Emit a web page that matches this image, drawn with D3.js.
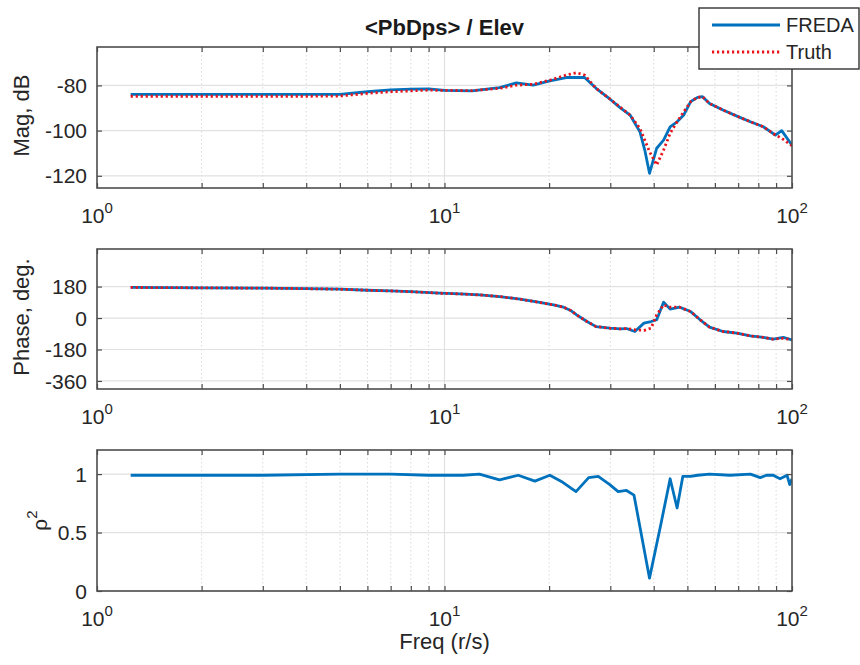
<!DOCTYPE html>
<html>
<head>
<meta charset="utf-8">
<script src="https://cdn.jsdelivr.net/npm/d3@7"></script>
<style>
  body { margin: 0; background: #fff; }
  svg { font-family: "Liberation Sans", Arial, sans-serif; }
</style>
</head>
<body>
<script>
// ---- data ----
var magFreq  = [1.25, 2, 3, 4, 5, 6, 7, 8, 9, 10, 12, 14.4, 16.1, 18, 20.1, 22.4, 24, 25.3, 27.3, 29.9,
                32, 34.2, 36.5, 37.7, 38.9, 40.8, 42.7, 44.6, 46.7, 48.8, 51.1, 53.5, 55.3, 57.9, 63.3,
                69.4, 75.9, 82.7, 89.6, 93.4, 100];
var magFreda = [-84, -84, -84, -84, -84, -82.8, -82.0, -81.6, -81.5, -82.2, -82.4, -81.0, -78.9, -79.9, -78.0,
                -76.5, -76.5, -76.5, -81.3, -86, -89.8, -93.1, -100.5, -108.6, -118.9, -107.8, -104.2, -98.3,
                -96.1, -93.1, -87.2, -85.3, -85, -88, -90.9, -93.6, -96.1, -98.3, -102, -100, -106.4];
var magTruth = [-84.8, -84.8, -84.8, -84.8, -84.7, -83.5, -82.8, -82.4, -82.1, -82.2, -82.3, -81.3, -79.9, -79.5,
                -77.7, -75.4, -74.4, -75.4, -81.3, -86, -89.6, -93.1, -99, -104.2, -109.3, -115.2, -108.6,
                -101.2, -96.1, -91.7, -87.2, -85.3, -85, -88, -90.9, -93.6, -96.1, -98.3, -102, -103.4, -106.7];

var phaseFreq  = [1.25, 2, 3, 4, 5, 6, 7, 8, 9.7, 11.1, 12.65, 14.4, 16.5, 18.8, 20.6, 22, 23, 24, 25.7, 27.3,
                  29.9, 32, 33.4, 35.3, 37.5, 39.3, 40.8, 42.7, 44.6, 47.5, 51.1, 54.4, 57.9, 63.3, 69.4,
                  75.9, 82.7, 88.3, 94.4, 100];
var phaseFreda = [175, 173, 171, 168, 165, 159, 155, 151, 142, 138, 132, 123, 108, 89, 75, 62, 45, 18, -20, -49,
                  -58, -62, -60, -77, -29, -20, -10, 91, 51, 62, 37, -10, -52, -77, -86, -102, -111, -121, -111, -125];
var phaseTruth = [175, 173, 171, 168, 165, 159, 155, 151, 142, 138, 132, 123, 108, 89, 75, 62, 45, 18, -20, -49,
                  -58, -62, -60, -67, -71, -58, 18, 75, 62, 62, 37, -10, -52, -77, -86, -102, -111, -121, -116, -125];

var cohFreq  = [1.25, 3, 5, 7, 9, 11.3, 12.6, 14.4, 16.3, 18.2, 20.1, 21.9, 23.9, 26, 27.7, 29.9, 31.6, 33.4,
                35.1, 38.9, 42, 44.6, 46.7, 48.5, 51.1, 53.5, 57.9, 66.3, 75.9, 81, 84.4, 88.3, 92.4, 96.8, 98.5, 100];
var cohFreda = [0.99, 0.99, 1.0, 1.0, 0.99, 0.99, 1.0, 0.95, 0.99, 0.94, 0.99, 0.93, 0.85, 0.97, 0.98, 0.91,
                0.85, 0.86, 0.82, 0.11, 0.58, 0.96, 0.71, 0.98, 0.98, 0.99, 1.0, 0.99, 1.0, 0.97, 0.99, 0.99,
                0.96, 0.99, 0.91, 0.96];

var magTicks   = [-120, -100, -80];
var phaseTicks = [-360, -180, 0, 180];
var cohTicks   = [0, 0.5, 1];
var decades    = [1, 10, 100];
var minorFreqs = [2, 3, 4, 5, 6, 7, 8, 9, 20, 30, 40, 50, 60, 70, 80, 90];

var blue = '#0072bd', red = '#e8141c';

// ---- layout ----
var width = 860, height = 665;

var x = d3.scaleLog()
    .domain([1, 100])
    .range([97, 792]);

// one entry per subplot
var panels = [
  { top: 47, bottom: 188, domain: [-125.4, -63], ticks: magTicks, fmt: String, label: 'Mag, dB',
    lines: [ { f: magFreq, v: magFreda, color: blue, dash: null },
             { f: magFreq, v: magTruth, color: red, dash: '2.2,2.8' } ] },
  { top: 249, bottom: 389, domain: [-406, 395], ticks: phaseTicks, fmt: String, label: 'Phase, deg.',
    lines: [ { f: phaseFreq, v: phaseFreda, color: blue, dash: null },
             { f: phaseFreq, v: phaseTruth, color: red, dash: '2.2,2.8' } ] },
  { top: 450, bottom: 591, domain: [0, 1.206], ticks: cohTicks, fmt: function(d) { return d === 0.5 ? '0.5' : String(d); }, label: null,
    lines: [ { f: cohFreq, v: cohFreda, color: blue, dash: null } ] }
];

var svg = d3.select('body')
  .append('svg')
    .attr('width', width)
    .attr('height', height);

var frameColor = '#4d4d4d';

panels.forEach(function(p, i) {
  var y = d3.scaleLinear()
      .domain(p.domain)
      .range([p.bottom, p.top]);
  var h = p.bottom - p.top;
  var g = svg.append('g');

  // grid: dotted minor verticals, solid major verticals and horizontals
  g.append('g')
    .selectAll('line')
    .data(minorFreqs)
    .enter().append('line')
      .attr('x1', function(d) { return x(d); })
      .attr('x2', function(d) { return x(d); })
      .attr('y1', p.top).attr('y2', p.bottom)
      .attr('stroke', '#d9d9d9')
      .attr('stroke-width', 1)
      .attr('stroke-dasharray', '1.5,2.5');

  g.append('line')
    .attr('x1', x(10)).attr('x2', x(10))
    .attr('y1', p.top).attr('y2', p.bottom)
    .attr('stroke', '#e1e1e1').attr('stroke-width', 1.2);

  g.append('g')
    .selectAll('line')
    .data(p.ticks)
    .enter().append('line')
      .attr('x1', x.range()[0]).attr('x2', x.range()[1])
      .attr('y1', function(d) { return y(d); })
      .attr('y2', function(d) { return y(d); })
      .attr('stroke', '#e1e1e1').attr('stroke-width', 1.2);

  // clip the curves to the axes box
  svg.append('clipPath')
      .attr('id', 'clip' + i)
    .append('rect')
      .attr('x', x.range()[0]).attr('y', p.top)
      .attr('width', x.range()[1] - x.range()[0]).attr('height', h);

  var line = d3.line()
      .x(function(d) { return x(d[0]); })
      .y(function(d) { return y(d[1]); });

  p.lines.forEach(function(s) {
    var pts = s.f.map(function(f, k) { return [f, s.v[k]]; });
    g.append('path')
      .datum(pts)
      .attr('clip-path', 'url(#clip' + i + ')')
      .attr('fill', 'none')
      .attr('stroke', s.color)
      .attr('stroke-width', 2.8)
      .attr('stroke-dasharray', s.dash)
      .attr('stroke-linejoin', 'round')
      .attr('d', line);
  });

  // inward ticks on all four sides
  var allX = decades.concat(minorFreqs);
  g.append('g')
    .attr('transform', 'translate(0,' + p.bottom + ')')
    .call(d3.axisBottom(x).tickValues(allX).tickSize(-5).tickFormat(''));
  g.append('g')
    .attr('transform', 'translate(0,' + p.top + ')')
    .call(d3.axisTop(x).tickValues(allX).tickSize(-5).tickFormat(''));
  g.append('g')
    .attr('transform', 'translate(' + x.range()[0] + ',0)')
    .call(d3.axisLeft(y).tickValues(p.ticks).tickSize(-5).tickFormat(''));
  g.append('g')
    .attr('transform', 'translate(' + x.range()[1] + ',0)')
    .call(d3.axisRight(y).tickValues(p.ticks).tickSize(-5).tickFormat(''));
  g.selectAll('.domain').remove();
  g.selectAll('.tick line').attr('stroke', frameColor).attr('stroke-width', 1.2);

  // box
  g.append('rect')
    .attr('x', x.range()[0]).attr('y', p.top)
    .attr('width', x.range()[1] - x.range()[0]).attr('height', h)
    .attr('fill', 'none')
    .attr('stroke', frameColor)
    .attr('stroke-width', 1.6);

  // y tick labels
  g.append('g')
    .selectAll('text')
    .data(p.ticks)
    .enter().append('text')
      .attr('x', x.range()[0] - 10)
      .attr('y', function(d) { return y(d); })
      .attr('dy', '0.36em')
      .attr('text-anchor', 'end')
      .attr('font-size', 21)
      .attr('fill', '#262626')
      .text(p.fmt);

  // x tick labels 10^n
  var xl = g.append('g')
    .selectAll('text')
    .data(decades)
    .enter().append('text')
      .attr('x', function(d) { return x(d); })
      .attr('y', p.bottom + 35)
      .attr('text-anchor', 'middle')
      .attr('font-size', 21)
      .attr('fill', '#262626');
  xl.append('tspan').text('10');
  xl.append('tspan')
    .attr('dy', -10)
    .attr('font-size', 15)
    .text(function(d) { return Math.round(Math.log10(d)); });

  // y axis label
  if (p.label) {
    g.append('text')
      .attr('transform', 'translate(29,' + ((p.top + p.bottom) / 2 - 2) + ') rotate(-90)')
      .attr('text-anchor', 'middle')
      .attr('font-size', 22)
      .attr('fill', '#262626')
      .text(p.label);
  } else {
    var rl = g.append('text')
      .attr('transform', 'translate(47,' + ((p.top + p.bottom) / 2) + ') rotate(-90)')
      .attr('text-anchor', 'middle')
      .attr('font-size', 21)
      .attr('fill', '#262626');
    rl.append('tspan').text('\u03c1');
    rl.append('tspan').attr('dy', -10).attr('font-size', 15).text('2');
  }
});

// title
svg.append('text')
  .attr('x', (x.range()[0] + x.range()[1]) / 2)
  .attr('y', 35)
  .attr('text-anchor', 'middle')
  .attr('font-size', 22)
  .attr('font-weight', 'bold')
  .attr('fill', '#1a1a1a')
  .text('<PbDps> / Elev');

// x axis label
svg.append('text')
  .attr('x', (x.range()[0] + x.range()[1]) / 2)
  .attr('y', 649)
  .attr('text-anchor', 'middle')
  .attr('font-size', 22)
  .attr('fill', '#262626')
  .text('Freq (r/s)');

// legend
var legend = svg.append('g');
legend.append('rect')
  .attr('x', 699).attr('y', 8)
  .attr('width', 160).attr('height', 61)
  .attr('fill', '#fff')
  .attr('stroke', '#333')
  .attr('stroke-width', 1.4);

var legendItems = [ { name: 'FREDA', color: blue, dash: null, y: 25 },
                    { name: 'Truth', color: red, dash: '2.2,2.8', y: 52 } ];
legendItems.forEach(function(d) {
  legend.append('line')
    .attr('x1', 712).attr('x2', 780)
    .attr('y1', d.y).attr('y2', d.y)
    .attr('stroke', d.color)
    .attr('stroke-width', 2.8)
    .attr('stroke-dasharray', d.dash);
  legend.append('text')
    .attr('x', 786).attr('y', d.y)
    .attr('dy', '0.36em')
    .attr('font-size', 20)
    .attr('fill', '#262626')
    .text(d.name);
});
</script>
</body>
</html>
